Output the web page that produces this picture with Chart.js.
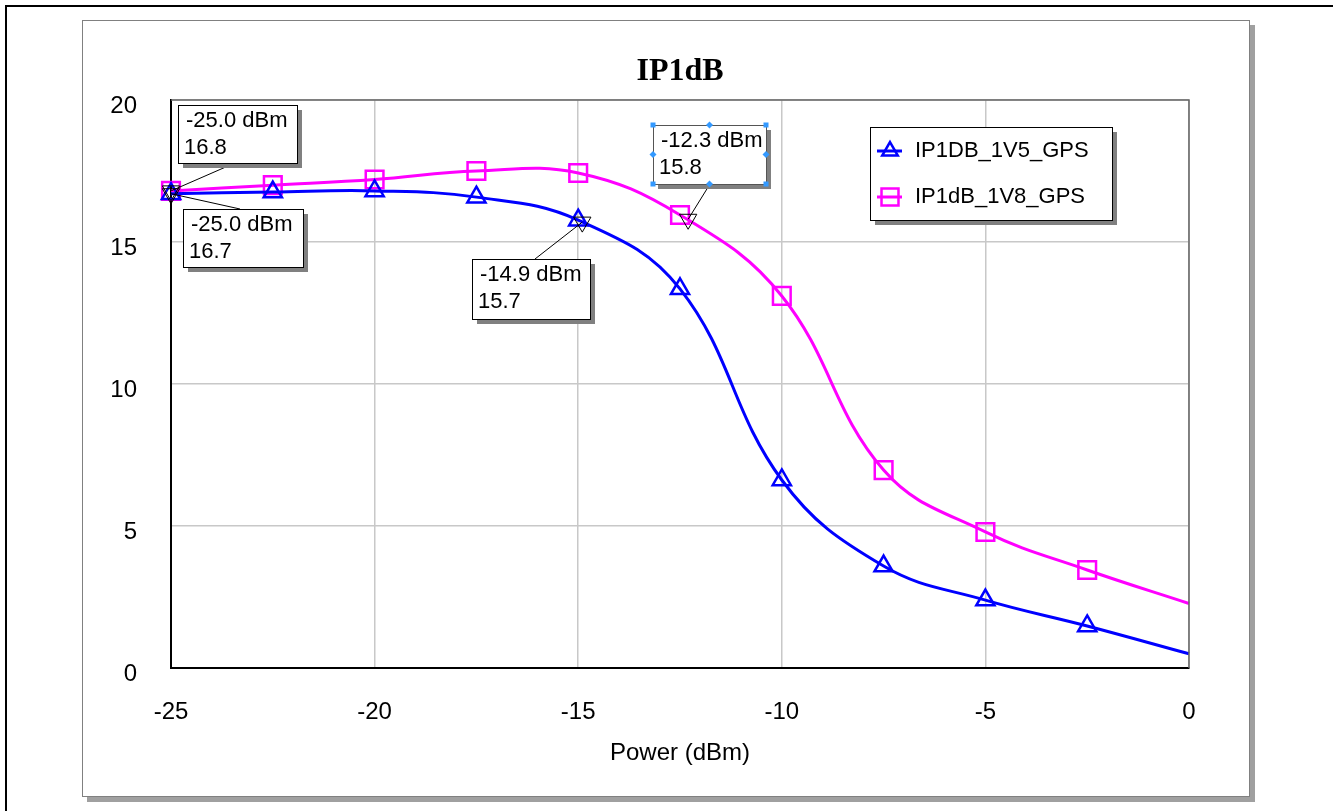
<!DOCTYPE html>
<html lang="en">
<head>
  <meta charset="UTF-8" />
  <title>IP1dB</title>
  <script src="https://cdn.jsdelivr.net/npm/chart.js"></script>
  <style>
    body {
      margin: 0;
      padding: 0;
      background-color: #fff;
    }
    #chart-wrap {
      width: 1333px;
      height: 811px;
    }
  </style>
</head>
<body>
  <div id="chart-wrap">
    <canvas id="ip1dbChart" width="1333" height="811"></canvas>
  </div>

  <script>
    // values
    const powerDbm = [-25, -22.5, -20, -17.5, -15, -12.5, -10, -7.5, -5, -2.5, 0];
    const ip1db1V5 = [16.7, 16.76, 16.8, 16.58, 15.77, 13.35, 6.62, 3.59, 2.39, 1.48, 0.5];
    const ip1db1V8 = [16.8, 17.0, 17.2, 17.5, 17.43, 15.95, 13.1, 6.97, 4.79, 3.45, 2.27];
    const seriesNames = ['IP1DB_1V5_GPS', 'IP1dB_1V8_GPS'];
    const xTickValues = [-25, -20, -15, -10, -5, 0];
    const yTickValues = [0, 5, 10, 15, 20];

    // marker readouts
    const markerPower = [-25.0, -25.0, -14.9, -12.3];
    const markerGain = [16.8, 16.7, 15.7, 15.8];

    // callout box layout: [left, top, width, height], and leader start point
    const calloutBoxes = [[178, 105, 119, 58], [183, 209, 120, 58], [472, 259, 118, 60], [653, 125, 113, 59]];
    const leaderStarts = [[228, 166], [240, 209], [535, 259], [710, 184]];
    const selectedCallout = 3;

    const FONT = "'Liberation Sans', Arial, sans-serif";
    const BLUE = '#0000ff';
    const MAGENTA = '#ff00ff';

    const frame = {
      id: 'frame',
      beforeDraw(chart) {
        const ctx = chart.ctx;
        ctx.save();
        ctx.fillStyle = '#fff';
        ctx.fillRect(0, 0, chart.width, chart.height);
        // outer black frame
        ctx.strokeStyle = '#000';
        ctx.lineWidth = 2;
        ctx.beginPath();
        ctx.moveTo(6, 811);
        ctx.lineTo(6, 6);
        ctx.lineTo(1333, 6);
        ctx.stroke();
        // panel shadow + panel
        ctx.fillStyle = '#a0a0a0';
        ctx.fillRect(87, 25, 1168, 777);
        ctx.fillStyle = '#fff';
        ctx.fillRect(82, 20, 1168, 777);
        ctx.strokeStyle = '#808080';
        ctx.lineWidth = 1;
        ctx.strokeRect(82.5, 20.5, 1167, 776);
        ctx.restore();
      },
      afterDatasetsDraw(chart) {
        const ctx = chart.ctx;
        const a = chart.chartArea;
        const xs = chart.scales.x;
        const ys = chart.scales.y;
        ctx.save();
        // top and right plot edges
        ctx.strokeStyle = '#666';
        ctx.lineWidth = 1.5;
        ctx.beginPath();
        ctx.moveTo(a.left, a.top);
        ctx.lineTo(a.right, a.top);
        ctx.lineTo(a.right, a.bottom);
        ctx.stroke();

        // title
        ctx.fillStyle = '#000';
        ctx.font = "bold 32px 'Liberation Serif', 'Times New Roman', serif";
        ctx.textAlign = 'center';
        ctx.textBaseline = 'middle';
        ctx.fillText('IP1dB', (a.left + a.right) / 2, 72);

        // callouts
        ctx.font = '22px ' + FONT;
        ctx.textAlign = 'left';
        markerPower.forEach((p, i) => {
          const [bx, by, bw, bh] = calloutBoxes[i];
          const px = xs.getPixelForValue(p);
          const py = ys.getPixelForValue(markerGain[i]);
          ctx.strokeStyle = '#000';
          ctx.lineWidth = 1;
          ctx.beginPath();
          ctx.moveTo(leaderStarts[i][0], leaderStarts[i][1]);
          ctx.lineTo(px, py);
          ctx.stroke();
          ctx.fillStyle = '#808080';
          ctx.fillRect(bx + 5, by + 5, bw, bh);
          ctx.fillStyle = '#fff';
          ctx.fillRect(bx, by, bw, bh);
          ctx.strokeStyle = i === selectedCallout ? '#555' : '#000';
          ctx.strokeRect(bx + 0.5, by + 0.5, bw, bh);
          ctx.fillStyle = '#000';
          ctx.fillText(p.toFixed(1) + ' dBm', bx + 8, by + 16);
          ctx.fillText(markerGain[i].toFixed(1), bx + 6, by + 43);
          if (i === selectedCallout) {
            ctx.fillStyle = '#3399ff';
            const l = bx, r = bx + bw, t = by, b = by + bh;
            const mx = (l + r) / 2, my = (t + b) / 2;
            [[l, t], [r, t], [l, b], [r, b]].forEach(([hx, hy]) => ctx.fillRect(hx - 2.5, hy - 2.5, 5, 5));
            [[mx, t], [mx, b], [l, my], [r, my]].forEach(([hx, hy]) => {
              ctx.beginPath();
              ctx.moveTo(hx, hy - 3.5);
              ctx.lineTo(hx + 3.5, hy);
              ctx.lineTo(hx, hy + 3.5);
              ctx.lineTo(hx - 3.5, hy);
              ctx.closePath();
              ctx.fill();
            });
          }
        });

        // legend inside the plot
        const lx = 870, ly = 127, lw = 242, lh = 93;
        ctx.fillStyle = '#808080';
        ctx.fillRect(lx + 5, ly + 5, lw, lh);
        ctx.fillStyle = '#fff';
        ctx.fillRect(lx, ly, lw, lh);
        ctx.strokeStyle = '#000';
        ctx.lineWidth = 1;
        ctx.strokeRect(lx + 0.5, ly + 0.5, lw, lh);
        const rowY = [151, 197];
        [1, 2].forEach((di, k) => {
          const ds = chart.data.datasets[di];
          const y = rowY[k];
          ctx.strokeStyle = ds.borderColor;
          ctx.lineWidth = 3;
          ctx.beginPath();
          ctx.moveTo(877, y);
          ctx.lineTo(902, y);
          ctx.stroke();
          ctx.fillStyle = 'rgba(0,0,0,0)';
          ctx.lineWidth = 2.5;
          Chart.helpers.drawPoint(ctx, {
            pointStyle: ds.pointStyle,
            radius: ds.legendRadius,
            borderWidth: 2.5,
            rotation: 0
          }, 890, y);
          ctx.fillStyle = '#000';
          ctx.font = '22px ' + FONT;
          ctx.textBaseline = 'middle';
          ctx.fillText(ds.label, 915, y);
        });
        ctx.restore();
      }
    };

    const ctx = document.getElementById('ip1dbChart').getContext('2d');
    const lastIdx = powerDbm.length - 1;

    new Chart(ctx, {
      type: 'line',
      data: {
        datasets: [
          {
            label: 'markers',
            data: markerPower.map((p, i) => ({ x: p, y: markerGain[i] })),
            showLine: false,
            pointStyle: 'triangle',
            pointRotation: 180,
            pointRadius: 10,
            pointBorderWidth: 1,
            pointBorderColor: '#000',
            pointBackgroundColor: 'rgba(0,0,0,0)',
            clip: false
          },
          {
            label: seriesNames[0],
            data: powerDbm.map((p, i) => ({ x: p, y: ip1db1V5[i] })),
            borderColor: BLUE,
            borderWidth: 3,
            tension: 0.4,
            pointStyle: 'triangle',
            legendRadius: 9,
            pointRadius: powerDbm.map((p, i) => (i === lastIdx ? 0 : 10.5)),
            pointBorderWidth: 2.5,
            pointBorderColor: BLUE,
            pointBackgroundColor: 'rgba(0,0,0,0)',
            clip: false
          },
          {
            label: seriesNames[1],
            data: powerDbm.map((p, i) => ({ x: p, y: ip1db1V8[i] })),
            borderColor: MAGENTA,
            borderWidth: 3,
            tension: 0.4,
            pointStyle: 'rect',
            legendRadius: 12,
            pointRadius: powerDbm.map((p, i) => (i === lastIdx ? 0 : 12.5)),
            pointBorderWidth: 2.5,
            pointBorderColor: MAGENTA,
            pointBackgroundColor: 'rgba(0,0,0,0)',
            clip: false
          }
        ]
      },
      options: {
        responsive: false,
        devicePixelRatio: 1,
        animation: false,
        layout: {
          padding: { left: 100, right: 144, top: 100, bottom: 43 }
        },
        plugins: {
          legend: { display: false },
          title: { display: false },
          tooltip: { enabled: false }
        },
        scales: {
          x: {
            type: 'linear',
            min: -25,
            max: 0,
            afterFit: (scale) => { scale.height = 100; },
            afterBuildTicks: (scale) => { scale.ticks = xTickValues.map(v => ({ value: v })); },
            border: { color: '#000', width: 2 },
            grid: { color: '#c8c8c8', lineWidth: 1.5, drawTicks: false },
            ticks: {
              padding: 30,
              color: '#000',
              font: { family: FONT, size: 24 },
              maxRotation: 0
            },
            title: {
              display: true,
              text: 'Power (dBm)',
              color: '#000',
              font: { family: FONT, size: 24 },
              padding: { top: 0, bottom: 0 }
            }
          },
          y: {
            min: 0,
            max: 20,
            afterFit: (scale) => { scale.width = 71; },
            afterBuildTicks: (scale) => { scale.ticks = yTickValues.map(v => ({ value: v })); },
            border: { color: '#000', width: 2 },
            grid: { color: '#c8c8c8', lineWidth: 1.5, drawTicks: false },
            ticks: {
              padding: 34,
              labelOffset: 6,
              color: '#000',
              font: { family: FONT, size: 24 }
            }
          }
        }
      },
      plugins: [frame]
    });
  </script>
</body>
</html>
